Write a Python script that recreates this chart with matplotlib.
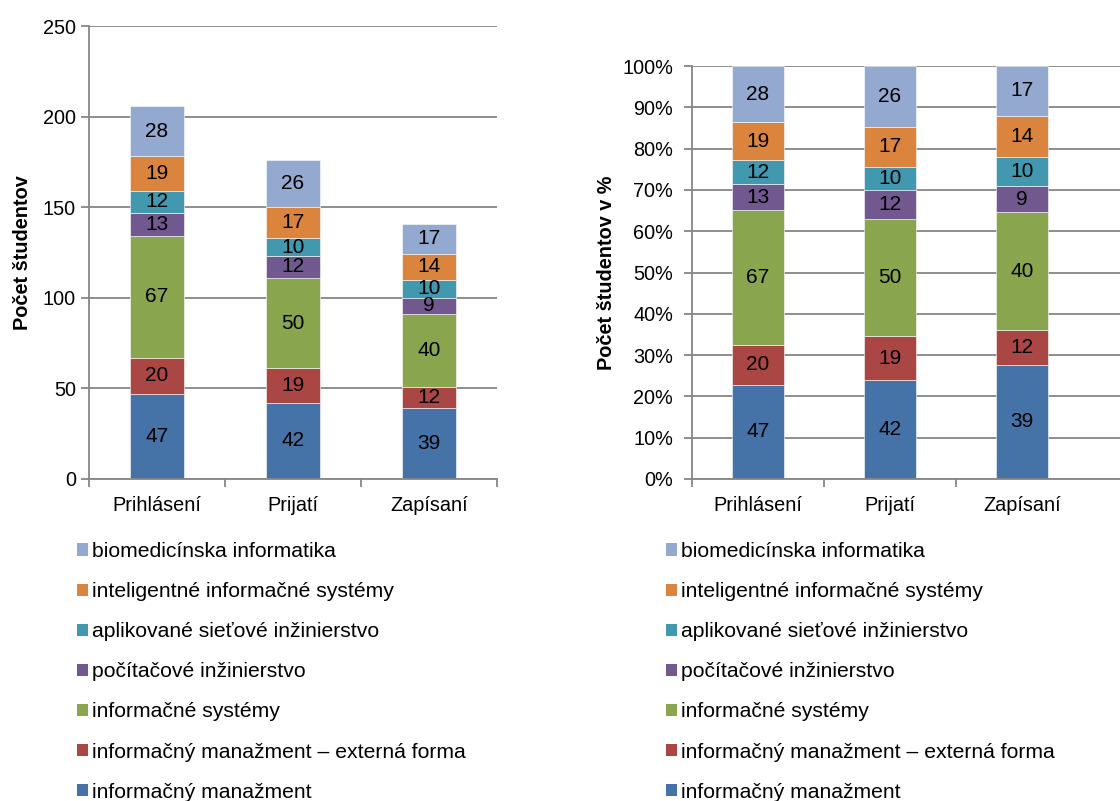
import matplotlib
matplotlib.use("Agg")
import matplotlib.pyplot as plt
from matplotlib.patches import Patch
from matplotlib.ticker import FixedLocator, PercentFormatter
import numpy as np

plt.rcParams['font.family'] = ['Liberation Sans', 'DejaVu Sans']

categories = ["Prihlásení", "Prijatí", "Zapísaní"]

series_names = [
    "informačný manažment",
    "informačný manažment – externá forma",
    "informačné systémy",
    "počítačové inžinierstvo",
    "aplikované sieťové inžinierstvo",
    "inteligentné informačné systémy",
    "biomedicínska informatika",
]

inf_manazment = [47, 42, 39]
inf_manazment_ext = [20, 19, 12]
inf_systemy = [67, 50, 40]
poc_inzinierstvo = [13, 12, 9]
siet_inzinierstvo = [12, 10, 10]
intel_systemy = [19, 17, 14]
biomed_informatika = [28, 26, 17]

series_values = [inf_manazment, inf_manazment_ext, inf_systemy, poc_inzinierstvo,
                 siet_inzinierstvo, intel_systemy, biomed_informatika]

colors = ["#4572A7", "#AA4643", "#89A54E", "#71588F", "#4198AF", "#DB843D", "#93A9CF"]

W, H = 1120, 801
fig = plt.figure(figsize=(W / 100, H / 100), dpi=100)

axis_gray = "#868686"
fs_tick = 14.3
fs_bar = 15
fs_leg = 15.2


def px_rect(x0, y0, x1, y1):
    return [x0 / W, 1 - y1 / H, (x1 - x0) / W, (y1 - y0) / H]


def style_axes(ax, n_sep):
    ax.set_axisbelow(True)
    for s in ["top", "right"]:
        ax.spines[s].set_visible(False)
    for s in ["left", "bottom"]:
        ax.spines[s].set_color(axis_gray)
        ax.spines[s].set_linewidth(1.3)
    ax.yaxis.grid(True, color=axis_gray, linewidth=1.3)
    ax.xaxis.grid(False)
    ax.set_xticks(range(len(categories)))
    ax.set_xticklabels(categories, fontsize=fs_tick)
    ax.tick_params(axis="x", which="major", length=0, pad=12)
    ax.xaxis.set_minor_locator(FixedLocator([-0.5 + i for i in range(n_sep)]))
    ax.tick_params(axis="x", which="minor", length=5.5, width=1.3, color=axis_gray)
    ax.tick_params(axis="y", length=5.5, width=1.3, color=axis_gray, labelsize=fs_tick)


def draw_stack(ax, fractions):
    x = np.arange(len(categories))
    bottom = np.zeros(len(categories))
    totals = np.sum(series_values, axis=0)
    for vals, col in zip(series_values, colors):
        v = np.array(vals, dtype=float)
        h = v / totals * 100 if fractions else v
        ax.bar(x, h, 0.4, bottom=bottom, color=col, edgecolor="white",
               linewidth=0.4, zorder=2)
        for xi, b, hi, lab in zip(x, bottom, h, vals):
            ax.text(xi, b + hi / 2, str(lab), ha="center", va="center",
                    fontsize=fs_bar, color="black", zorder=3)
        bottom += h


# Absolute counts
ax1 = fig.add_axes(px_rect(89, 26, 497, 479))
draw_stack(ax1, False)
ax1.set_xlim(-0.5, 2.5)
ax1.set_ylim(0, 250)
ax1.set_yticks(np.arange(0, 251, 50))
style_axes(ax1, 4)
ax1.tick_params(axis="y", pad=4)
ax1.set_ylabel("Počet študentov", fontsize=fs_tick, fontweight="bold")
ax1.yaxis.set_label_coords(-0.14, 0.5)

# Shares in percent
ax2 = fig.add_axes(px_rect(692, 66, 1120, 479))
draw_stack(ax2, True)
ax2.set_xlim(-0.5, -0.5 + 428 / 132)
ax2.set_ylim(0, 100)
ax2.set_yticks(np.arange(0, 101, 10))
ax2.yaxis.set_major_formatter(PercentFormatter(decimals=0))
style_axes(ax2, 3)
ax2.tick_params(axis="y", pad=8)
ax2.set_ylabel("Počet študentov v %", fontsize=fs_tick, fontweight="bold")
ax2.yaxis.set_label_coords(-0.178, 0.5)

handles = [Patch(facecolor=c, edgecolor="none", label=n)
           for c, n in zip(colors, series_names)][::-1]

for x0 in (77, 666):
    fig.legend(handles=handles, loc="upper left",
               bbox_to_anchor=(x0 / W, 1 - 542 / H), frameon=False,
               fontsize=fs_leg, handlelength=0.5, handleheight=0.5,
               handletextpad=0.2, labelspacing=1.0, borderpad=0,
               borderaxespad=0)

fig.savefig("out.png", dpi=100)
